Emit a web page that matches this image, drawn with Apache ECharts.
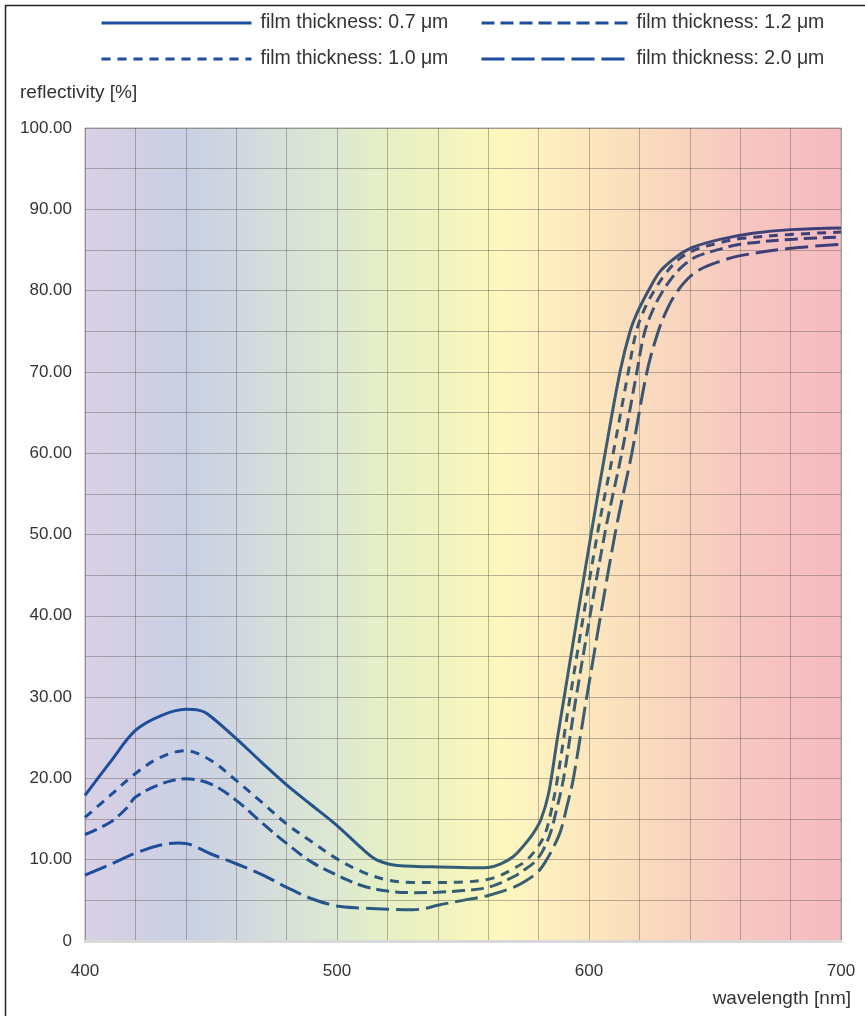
<!DOCTYPE html>
<html>
<head>
<meta charset="utf-8">
<script src="https://cdn.jsdelivr.net/npm/echarts@6/dist/echarts.min.js"></script>
<style>
html,body{margin:0;padding:0;background:#fff;}
#chart{width:865px;height:1016px;}
</style>
</head>
<body>
<div id="chart"></div>
<script>
// ---- data (wavelength nm, reflectivity %) ----
var film07 = [[400,17.9],[410,22.0],[420,25.9],[430,27.7],[440,28.5],[445,28.4],[448.5,27.95],[460,24.9],[470,22.0],[480,19.2],[490,16.7],[500,14.2],[510,11.35],[515,10.1],[520,9.5],[524,9.3],[540,9.1],[556,9.0],[560,9.05],[565,9.5],[570,10.4],[574,11.7],[578,13.3],[581,15.0],[584,18.2],[587.5,25],[600.8,50],[606.4,60],[612.3,70],[616.3,75],[619,77.2],[623.6,80],[628.3,82.4],[634.9,84.2],[641,85.3],[652,86.3],[665,87.05],[680,87.5],[700,87.7]];

var film10 = [[400,15.2],[410,17.9],[420,20.6],[430,22.6],[440,23.4],[450,22.2],[460,19.75],[470,17.1],[480,14.4],[490,12.2],[500,10.1],[510,8.5],[520,7.5],[530,7.2],[540,7.2],[550,7.25],[560,7.6],[565,8.1],[570,8.9],[574.7,9.8],[579.3,11.4],[582.6,13.2],[585,16],[587.5,20],[592.5,30],[603.3,50],[609.6,60],[615.6,70],[618.8,75],[622.4,78],[626.3,80.2],[630.9,82.3],[636.2,84.0],[642.8,85.1],[652,85.9],[660,86.4],[680,86.9],[700,87.2]];

var film12 = [[400,13.1],[410,14.6],[417,16.5],[420,17.7],[430,19.3],[440,19.95],[450,19.3],[460,17.3],[470,14.6],[480,12.0],[490,9.7],[500,8.1],[510,6.8],[520,6.15],[530,5.95],[540,6.0],[550,6.2],[560,6.6],[570,7.9],[575,8.9],[578,9.6],[581.3,10.9],[584.6,13.2],[587,16],[589.9,20],[594.9,30],[606.2,50],[613,60],[619,70],[622,74.8],[625.6,77.8],[629,79.8],[633,81.6],[637.5,83.1],[642.8,84.2],[652,85.1],[660,85.7],[680,86.3],[700,86.6]];

var film20 = [[400,8.1],[410,9.4],[420,10.8],[430,11.8],[437,12.05],[440,12.0],[450,10.7],[460,9.5],[470,8.2],[480,6.6],[490,5.2],[500,4.3],[510,4.05],[520,3.9],[530,3.85],[535,4.0],[540,4.4],[550,5.0],[560,5.6],[570,6.6],[575,7.4],[580,8.6],[583,9.9],[586,11.6],[588.8,13.6],[591.2,16.5],[593.8,20],[599.1,30],[610.3,50],[617,60],[623,70],[627.5,75],[631,77.7],[634.6,79.7],[639,81.4],[644,82.6],[652,83.6],[660,84.3],[680,85.2],[700,85.7]];

var xTickLabels = [400, 500, 600, 700];
var yTickLabels = [0, 10, 20, 30, 40, 50, 60, 70, 80, 90, 100];

// ---- styles ----
var lineGrad = {
  type: 'linear', x: 0, y: 0, x2: 1, y2: 0,
  colorStops: [
    {offset: 0, color: '#1c4ca0'},
    {offset: 0.25, color: '#215192'},
    {offset: 0.4, color: '#2c5a7e'},
    {offset: 0.5, color: '#385f72'},
    {offset: 0.68, color: '#3c5e70'},
    {offset: 0.77, color: '#3c4f74'},
    {offset: 0.87, color: '#3d4078'},
    {offset: 1, color: '#3d3e78'}
  ]
};
var bgGrad = {
  type: 'linear', x: 0, y: 0, x2: 1, y2: 0,
  colorStops: [
    {offset: 0, color: '#d9d0e5'},
    {offset: 0.067, color: '#d1cfe4'},
    {offset: 0.133, color: '#c9d0e3'},
    {offset: 0.2, color: '#d0d7e0'},
    {offset: 0.267, color: '#d7e1d8'},
    {offset: 0.333, color: '#dde8d2'},
    {offset: 0.4, color: '#e6f0c4'},
    {offset: 0.467, color: '#eff3bf'},
    {offset: 0.55, color: '#fdf8bd'},
    {offset: 0.6, color: '#fdf0c0'},
    {offset: 0.667, color: '#fde7bd'},
    {offset: 0.733, color: '#fadcbc'},
    {offset: 0.8, color: '#f8d2bf'},
    {offset: 0.867, color: '#f7c7c1'},
    {offset: 1, color: '#f5bac0'}
  ]
};
var FONT = 'Liberation Sans';
var dashes = {
  'film thickness: 0.7 μm': 'solid',
  'film thickness: 1.0 μm': [9, 7],
  'film thickness: 1.2 μm': [13, 6],
  'film thickness: 2.0 μm': [23, 7]
};
var dataByName = {
  'film thickness: 0.7 μm': film07,
  'film thickness: 1.0 μm': film10,
  'film thickness: 1.2 μm': film12,
  'film thickness: 2.0 μm': film20
};

function mkSeries(name) {
  return {
    name: name,
    type: 'line',
    data: dataByName[name],
    smooth: 0.35,
    symbol: 'none',
    showSymbol: false,
    lineStyle: {color: lineGrad, width: 3, type: dashes[name]},
    itemStyle: {color: '#1c4ca0'},
    z: 3
  };
}

function legendOf(left, width, names) {
  return {
    orient: 'vertical', left: left, top: 13, padding: 0,
    itemWidth: width, itemHeight: 14, itemGap: 16,
    data: names,
    selectedMode: false,
    lineStyle: {color: '#1c4ca0', width: 3},
    itemStyle: {color: 'rgba(0,0,0,0)', borderWidth: 0, opacity: 0},
    textStyle: {fontFamily: FONT, fontSize: 19.5, color: '#333', padding: [0, 0, 0, 4]}
  };
}

var chart = echarts.init(document.getElementById('chart'), null, {renderer: 'canvas'});
chart.setOption({
  animation: false,
  backgroundColor: '#fff',
  legend: [
    legendOf(100, 150, ['film thickness: 0.7 μm', 'film thickness: 1.0 μm']),
    legendOf(480, 146, ['film thickness: 1.2 μm', 'film thickness: 2.0 μm'])
  ],
  grid: {
    left: 85, right: 24, top: 128, bottom: 75,
    show: true, backgroundColor: bgGrad, borderColor: '#a8a8a8', borderWidth: 1
  },
  xAxis: {
    type: 'value', min: 400, max: 700, interval: 20,
    axisLine: {show: true, lineStyle: {color: '#d9d9d9', width: 3}},
    axisTick: {show: false},
    splitLine: {show: true, lineStyle: {color: 'rgba(95,85,80,0.42)', width: 1}},
    axisLabel: {
      margin: 22, fontFamily: FONT, fontSize: 17, color: '#333',
      formatter: function (v) { return xTickLabels.indexOf(v) >= 0 ? String(v) : ''; }
    }
  },
  yAxis: {
    type: 'value', min: 0, max: 100, interval: 5,
    axisLine: {show: false},
    axisTick: {show: false},
    splitLine: {show: true, lineStyle: {color: 'rgba(95,85,80,0.42)', width: 1}},
    axisLabel: {
      margin: 13, fontFamily: FONT, fontSize: 17, color: '#333',
      formatter: function (v) {
        if (yTickLabels.indexOf(v) < 0) return '';
        return v === 0 ? '0' : v.toFixed(2);
      }
    }
  },
  graphic: [
    {type: 'line', shape: {x1: 5.5, y1: 5.5, x2: 5.5, y2: 1016}, style: {stroke: '#222', lineWidth: 1.5}, silent: true},
    {type: 'line', shape: {x1: 5, y1: 5.5, x2: 865, y2: 5.5}, style: {stroke: '#222', lineWidth: 1.5}, silent: true},
    {type: 'text', left: 20, top: 83, style: {text: 'reflectivity [%]', font: '19px "Liberation Sans"', fill: '#333'}},
    {type: 'text', right: 14, top: 989, style: {text: 'wavelength [nm]', font: '19px "Liberation Sans"', fill: '#333'}}
  ],
  series: [
    mkSeries('film thickness: 2.0 μm'),
    mkSeries('film thickness: 1.2 μm'),
    mkSeries('film thickness: 1.0 μm'),
    mkSeries('film thickness: 0.7 μm')
  ]
});
</script>
</body>
</html>
